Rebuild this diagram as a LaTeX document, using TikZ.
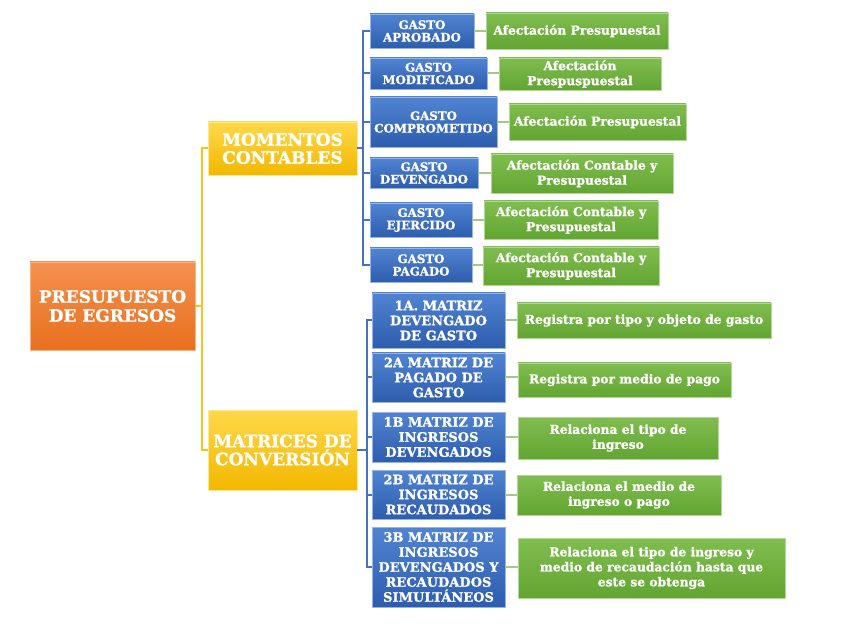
\documentclass[tikz,border=0pt]{standalone}
\usepackage{fontspec}
\setmainfont{DejaVu Serif}[BoldFeatures={FakeBold=1.2}]
\definecolor{rootTop}{HTML}{F4914F}
\definecolor{rootBot}{HTML}{E8701E}
\definecolor{momTop}{HTML}{FFD84A}
\definecolor{momBot}{HTML}{F2B800}
\definecolor{gastoTop}{HTML}{5084D2}
\definecolor{gastoBot}{HTML}{2E5DAE}
\definecolor{afecTop}{HTML}{80BD50}
\definecolor{afecBot}{HTML}{62A531}
\definecolor{lineYellow}{HTML}{F9C31F}
\definecolor{lineBlue}{HTML}{4472C4}
\definecolor{lineGreen}{HTML}{A3C985}
\begin{document}
\begin{tikzpicture}[
    x=1pt, y=-1pt,
    box/.style={rectangle, inner sep=1pt, align=center, text=white, line width=0.8pt},
    boxsize/.style 2 args={minimum width=#1, minimum height=#2},
    rootbox/.style={box, top color=rootTop, bottom color=rootBot, draw=rootTop!70!white,
        font=\fontsize{17}{19}\selectfont\bfseries},
    groupbox/.style={box, top color=momTop, bottom color=momBot, draw=momTop!60!white,
        font=\fontsize{17}{18}\selectfont\bfseries},
    gastobox/.style={box, top color=gastoTop, bottom color=gastoBot, draw=gastoTop!60!white,
        font=\fontsize{11.8}{12.5}\selectfont\bfseries},
    matrizbox/.style={box, top color=gastoTop, bottom color=gastoBot, draw=gastoTop!60!white,
        font=\fontsize{13}{15}\selectfont\bfseries},
    afecbox/.style={box, top color=afecTop, bottom color=afecBot, draw=afecTop!60!white,
        font=\fontsize{12.3}{15}\selectfont\bfseries},
    yline/.style={lineYellow, line width=2pt},
    bline/.style={lineBlue, line width=2pt},
    gline/.style={lineGreen, line width=2pt}
]
    \useasboundingbox (0,0) rectangle (841,644);

    % root and groups
    \node[rootbox, boxsize={165}{88}] (root) at (112.5,306) {PRESUPUESTO\\DE EGRESOS};
    \node[groupbox, boxsize={149}{53}] (mom) at (282.5,148.5) {MOMENTOS\\CONTABLES};
    \node[groupbox, boxsize={149}{80}] (mat) at (282.5,450) {MATRICES DE\\CONVERSIÓN};

    % momentos contables
    \node[gastobox, boxsize={104}{34}] (g1) at (422,31) {GASTO\\APROBADO};
    \node[gastobox, boxsize={117}{31}] (g2) at (428.5,73.5) {GASTO\\MODIFICADO};
    \node[gastobox, boxsize={127}{50}] (g3) at (433.5,122) {GASTO\\COMPROMETIDO};
    \node[gastobox, boxsize={108}{30}] (g4) at (424,173) {GASTO\\DEVENGADO};
    \node[gastobox, boxsize={102}{34}] (g5) at (421,220) {GASTO\\EJERCIDO};
    \node[gastobox, boxsize={102}{34}] (g6) at (421,265) {GASTO\\PAGADO};

    \node[afecbox, boxsize={182}{36}] (a1) at (577,31) {Afectación Presupuestal};
    \node[afecbox, boxsize={162}{32}] (a2) at (580,74) {Afectación\\Prespuspuestal};
    \node[afecbox, boxsize={177}{36}] (a3) at (597.5,122) {Afectación Presupuestal};
    \node[afecbox, boxsize={182}{39}] (a4) at (582,173.5) {Afectación Contable y\\Presupuestal};
    \node[afecbox, boxsize={174}{38}] (a5) at (571,220) {Afectación Contable y\\Presupuestal};
    \node[afecbox, boxsize={176}{38}] (a6) at (571,266) {Afectación Contable y\\Presupuestal};

    % matrices de conversion
    \node[matrizbox, boxsize={133}{55}] (m1) at (438.5,320.5) {1A. MATRIZ\\DEVENGADO\\DE GASTO};
    \node[matrizbox, boxsize={133}{49}] (m2) at (438.5,377.5) {2A MATRIZ DE\\PAGADO DE\\GASTO};
    \node[matrizbox, boxsize={133}{50}] (m3) at (438.5,437) {1B MATRIZ DE\\INGRESOS\\DEVENGADOS};
    \node[matrizbox, boxsize={133}{49}] (m4) at (438.5,494.5) {2B MATRIZ DE\\INGRESOS\\RECAUDADOS};
    \node[matrizbox, boxsize={133}{80}] (m5) at (438.5,567) {3B MATRIZ DE\\INGRESOS\\DEVENGADOS Y\\RECAUDADOS\\SIMULTÁNEOS};

    \node[afecbox, boxsize={254}{35}] (r1) at (644,320.5) {Registra por tipo y objeto de gasto};
    \node[afecbox, boxsize={213}{34}] (r2) at (624.5,380) {Registra por medio de pago};
    \node[afecbox, boxsize={200}{42}] (r3) at (618,438) {Relaciona el tipo de\\ingreso};
    \node[afecbox, boxsize={204}{40}] (r4) at (619,495) {Relaciona el medio de\\ingreso o pago};
    \node[afecbox, boxsize={267}{60}] (r5) at (651.5,568) {Relaciona el tipo de ingreso y\\medio de recaudación hasta que\\este se obtenga};

    % connectors
    \foreach \g in {mom,mat}
        \draw[yline] (root.east) -- ++(7,0) |- (\g.west);
    \foreach \g in {g1,g2,g3,g4,g5,g6}
        \draw[bline] (mom.east) -- ++(6,0) |- (\g.west);
    \foreach \m in {m1,m2,m3,m4,m5}
        \draw[bline] (mat.east) -- ++(10,0) |- (\m.west);
    \foreach \g/\a in {g1/a1,g2/a2,g3/a3,g4/a4,g5/a5,g6/a6,m1/r1,m2/r2,m3/r3,m4/r4,m5/r5}
        \draw[gline] (\g.east) -- (\g.east -| \a.west);
\end{tikzpicture}
\end{document}
